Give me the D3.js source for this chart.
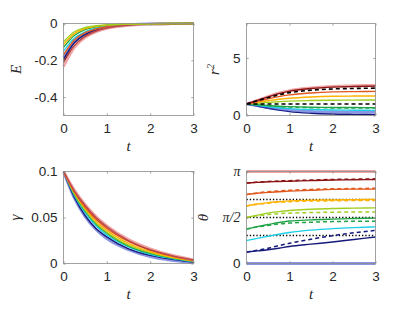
<!DOCTYPE html>
<html>
<head>
<meta charset="utf-8">
<script src="https://cdn.jsdelivr.net/npm/d3@7"></script>
<style>
  body { margin: 0; background: #fff; }
  .tick text { font-family: "Liberation Sans", Arial, sans-serif; font-size: 13.5px; fill: #262626; }
  .lab { font-family: "Liberation Serif", serif; font-style: italic; font-size: 15px; fill: #262626; }
</style>
</head>
<body>
<svg id="fig" width="415" height="312"></svg>
<script>
// time samples shared by every curve
const T = [0, 0.25, 0.5, 0.75, 1, 1.5, 2, 2.5, 3];

// one colour per initial angle: 0, π/8 ... π
const seriesColors = ["#3d4fd0", "#15197a", "#19cfe8", "#21a447", "#9fd021",
                      "#ffb300", "#e2571b", "#8c1313", "#e36a6a"];
const wideSeries = [0, 8]; // drawn thick and pale

// E(t)
const energy = [
  [-0.185, -0.100, -0.056, -0.033, -0.020, -0.007, -0.002, -0.001, 0],
  [-0.195, -0.105, -0.060, -0.035, -0.021, -0.007, -0.002, -0.001, 0],
  [-0.150, -0.080, -0.045, -0.026, -0.015, -0.005, -0.002, -0.001, 0],
  [-0.130, -0.065, -0.033, -0.018, -0.010, -0.004, -0.001, 0, 0],
  [-0.100, -0.045, -0.022, -0.012, -0.007, -0.003, -0.001, 0, 0],
  [-0.115, -0.055, -0.027, -0.015, -0.009, -0.003, -0.001, 0, 0],
  [-0.170, -0.090, -0.050, -0.030, -0.018, -0.006, -0.002, -0.001, 0],
  [-0.210, -0.120, -0.070, -0.042, -0.025, -0.009, -0.003, -0.001, 0],
  [-0.235, -0.130, -0.075, -0.045, -0.027, -0.010, -0.003, -0.001, 0]
];

// r^2(t)
const rSquared = [
  [1, 0.85, 0.71, 0.58, 0.47, 0.36, 0.31, 0.29, 0.27],
  [1, 0.82, 0.63, 0.47, 0.34, 0.20, 0.13, 0.10, 0.08],
  [1, 0.89, 0.78, 0.68, 0.60, 0.52, 0.48, 0.46, 0.45],
  [1, 0.94, 0.87, 0.81, 0.77, 0.72, 0.70, 0.69, 0.68],
  [1, 1.07, 1.14, 1.20, 1.25, 1.30, 1.33, 1.34, 1.35],
  [1, 1.14, 1.28, 1.41, 1.50, 1.61, 1.67, 1.69, 1.70],
  [1, 1.22, 1.44, 1.64, 1.79, 1.96, 2.05, 2.08, 2.10],
  [1, 1.31, 1.62, 1.90, 2.12, 2.35, 2.47, 2.52, 2.55],
  [1, 1.32, 1.65, 1.94, 2.17, 2.41, 2.54, 2.59, 2.62]
];
const rSquaredGreenDashed = [1, 0.93, 0.85, 0.78, 0.73, 0.68, 0.66, 0.65, 0.65];
const rSquaredBlackDashed = [
  [1, 1, 1, 1, 1, 1, 1, 1, 1],
  [1, 1.28, 1.55, 1.80, 1.99, 2.20, 2.31, 2.35, 2.38]
];

// gamma(t)
const gamma = [
  [0.1, 0.071, 0.051, 0.037, 0.027, 0.015, 0.0075, 0.0035, 0.001],
  [0.1, 0.072, 0.052, 0.038, 0.029, 0.016, 0.0088, 0.0045, 0.0015],
  [0.1, 0.074, 0.055, 0.041, 0.031, 0.018, 0.010, 0.0055, 0.0022],
  [0.1, 0.075, 0.057, 0.043, 0.033, 0.019, 0.011, 0.006, 0.0025],
  [0.1, 0.076, 0.058, 0.044, 0.034, 0.020, 0.012, 0.0065, 0.0028],
  [0.1, 0.077, 0.060, 0.046, 0.036, 0.022, 0.013, 0.007, 0.003],
  [0.1, 0.078, 0.061, 0.048, 0.038, 0.024, 0.0145, 0.008, 0.0035],
  [0.1, 0.079, 0.063, 0.050, 0.040, 0.025, 0.015, 0.0085, 0.0038],
  [0.1, 0.080, 0.064, 0.051, 0.041, 0.026, 0.016, 0.009, 0.004]
];

// theta(t), solid and dashed
const theta = [
  [0, 0, 0, 0, 0, 0, 0, 0, 0],
  [0.393, 0.43, 0.47, 0.52, 0.58, 0.66, 0.735, 0.82, 0.905],
  [0.785, 0.86, 0.93, 1.00, 1.06, 1.14, 1.19, 1.225, 1.25],
  [1.178, 1.26, 1.33, 1.40, 1.45, 1.49, 1.515, 1.535, 1.55],
  [1.571, 1.65, 1.72, 1.77, 1.81, 1.85, 1.88, 1.89, 1.90],
  [1.963, 2.03, 2.08, 2.11, 2.14, 2.16, 2.17, 2.18, 2.19],
  [2.356, 2.40, 2.43, 2.45, 2.47, 2.50, 2.53, 2.54, 2.54],
  [2.749, 2.77, 2.79, 2.80, 2.81, 2.83, 2.85, 2.86, 2.87],
  [3.1416, 3.1416, 3.1416, 3.1416, 3.1416, 3.1416, 3.1416, 3.1416, 3.1416]
];
const thetaDashedSeries = [1, 3, 4, 5, 6, 7];
const thetaDashed = [
  [0.393, 0.45, 0.52, 0.61, 0.69, 0.83, 0.95, 1.05, 1.13],
  [1.178, 1.25, 1.30, 1.35, 1.38, 1.41, 1.43, 1.44, 1.44],
  [1.571, 1.63, 1.67, 1.70, 1.72, 1.74, 1.75, 1.76, 1.76],
  [1.963, 2.02, 2.06, 2.09, 2.11, 2.13, 2.14, 2.15, 2.15],
  [2.356, 2.41, 2.45, 2.48, 2.50, 2.53, 2.55, 2.56, 2.57],
  [2.749, 2.78, 2.80, 2.82, 2.83, 2.85, 2.87, 2.88, 2.89]
];
const thetaDotted = [0.9553, 1.5708, 2.1863];

const xTicks = [0, 1, 2, 3];

const svg = d3.select("#fig");
svg.append("rect").attr("width", 415).attr("height", 312).attr("fill", "#fff");

function makePanel(opt) {
  const g = svg.append("g").attr("transform", `translate(${opt.left},${opt.top})`);
  const w = opt.width, h = opt.height;
  const x = d3.scaleLinear().domain([0, 3]).range([0, w]);
  const y = d3.scaleLinear().domain(opt.yDomain).range([h, 0]);
  const clip = "clip" + opt.id;
  g.append("clipPath").attr("id", clip).append("rect")
    .attr("x", -1).attr("y", -2).attr("width", w + 2).attr("height", h + 4);
  const plot = g.append("g").attr("clip-path", `url(#${clip})`);
  const line = d3.line().x((d, i) => x(T[i])).y(d => y(d)).curve(d3.curveMonotoneX);

  opt.draw(plot, line, x, y);

  // box with inward ticks
  g.append("rect").attr("width", w).attr("height", h)
    .attr("fill", "none").attr("stroke", "#8c8c8c").attr("stroke-width", 0.8);
  const tl = 2.2;
  const xb = g.append("g").attr("transform", `translate(0,${h})`)
    .call(d3.axisBottom(x).tickValues(xTicks).tickSize(-tl).tickPadding(8).tickFormat(d3.format("d")));
  const xt = g.append("g").call(d3.axisTop(x).tickValues(xTicks).tickSize(-tl).tickFormat(""));
  const yl = g.append("g")
    .call(d3.axisLeft(y).tickValues(opt.yTicks).tickSize(-tl).tickPadding(6).tickFormat(opt.yFormat));
  const yr = g.append("g").attr("transform", `translate(${w},0)`)
    .call(d3.axisRight(y).tickValues(opt.yTicks).tickSize(-tl).tickFormat(""));
  [xb, xt, yl, yr].forEach(a => {
    a.select(".domain").remove();
    a.selectAll(".tick line").attr("stroke", "#8c8c8c").attr("stroke-width", 0.8);
  });

  g.append("text").attr("class", "lab").attr("x", w / 2).attr("y", h + 35)
    .attr("text-anchor", "middle").text("t");
  g.append("text").attr("class", "lab")
    .attr("transform", `translate(${opt.yLabelX},${h / 2}) rotate(-90)`)
    .attr("text-anchor", "middle").html(opt.yLabel);
}

function drawSeries(plot, line, data, order) {
  order.forEach(i => {
    const wide = wideSeries.includes(i);
    plot.append("path").datum(data[i]).attr("d", line)
      .attr("fill", "none").attr("stroke", seriesColors[i])
      .attr("stroke-width", wide ? 2.8 : 1.4)
      .attr("stroke-opacity", wide ? 0.6 : 1);
  });
}

// E
makePanel({
  id: "E", left: 63.5, top: 23.5, width: 130, height: 92,
  yDomain: [-0.5, 0], yTicks: [-0.4, -0.2, 0],
  yFormat: d => d === 0 ? "0" : d3.format(".1f")(d).replace("−", "-"),
  yLabel: "E", yLabelX: -43,
  draw: (plot, line) => drawSeries(plot, line, energy, [0, 1, 2, 6, 7, 8, 3, 5, 4])
});

// r^2
makePanel({
  id: "R", left: 246.5, top: 23.5, width: 129, height: 92,
  yDomain: [0, 8], yTicks: [0, 5], yFormat: d3.format("d"),
  yLabel: "r<tspan dy='-5' font-size='10px'>2</tspan>", yLabelX: -28,
  draw: (plot, line) => {
    drawSeries(plot, line, rSquared, [1, 0, 2, 3, 4, 5, 6, 8, 7]);
    plot.append("path").datum(rSquaredGreenDashed).attr("d", line)
      .attr("fill", "none").attr("stroke", seriesColors[3]).attr("stroke-width", 1.5)
      .attr("stroke-dasharray", "4,3");
    rSquaredBlackDashed.forEach(d => {
      plot.append("path").datum(d).attr("d", line)
        .attr("fill", "none").attr("stroke", "#000").attr("stroke-width", 1.6)
        .attr("stroke-dasharray", "4,3");
    });
  }
});

// gamma
makePanel({
  id: "G", left: 63.5, top: 171.5, width: 130, height: 92,
  yDomain: [0, 0.1], yTicks: [0, 0.05, 0.1],
  yFormat: d => d === 0 ? "0" : String(d),
  yLabel: "γ", yLabelX: -44,
  draw: (plot, line) => drawSeries(plot, line, gamma, [0, 1, 2, 3, 4, 5, 6, 7, 8])
});

// theta
makePanel({
  id: "H", left: 246.5, top: 171.5, width: 129, height: 92,
  yDomain: [0, Math.PI], yTicks: [0, Math.PI / 2, Math.PI],
  yFormat: d => d === 0 ? "0" : (d < 2 ? "π/2" : "π"),
  yLabel: "θ", yLabelX: -39,
  draw: (plot, line, x, y) => {
    thetaDotted.forEach(v => {
      plot.append("line").attr("x1", x(0)).attr("x2", x(3))
        .attr("y1", y(v)).attr("y2", y(v))
        .attr("stroke", "#000").attr("stroke-width", 1.3).attr("stroke-dasharray", "1.3,2");
    });
    drawSeries(plot, line, theta, [0, 1, 2, 3, 4, 5, 6, 7, 8]);
    thetaDashedSeries.forEach((s, k) => {
      plot.append("path").datum(thetaDashed[k]).attr("d", line)
        .attr("fill", "none").attr("stroke", seriesColors[s]).attr("stroke-width", 1.5)
        .attr("stroke-dasharray", "4,3");
    });
  }
});

// pi labels in serif like the original
svg.selectAll(".tick text").filter(function () { return this.textContent.includes("π"); })
  .style("font-family", "'Liberation Serif', serif").style("font-style", "italic").style("font-size", "14px");
</script>
</body>
</html>
